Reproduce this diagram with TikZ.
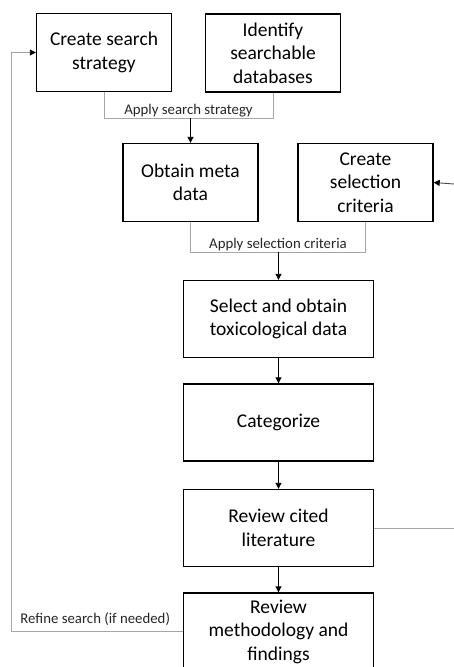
\documentclass[tikz,border=0pt]{standalone}
\usepackage{fontspec}
\setmainfont{Carlito}
\usetikzlibrary{arrows.meta, positioning, calc}
\definecolor{lineGray}{HTML}{A6A6A6}

\begin{document}
\begin{tikzpicture}[x=1pt, y=-1pt,
    box/.style={draw, line width=1.4pt, align=center, font=\fontsize{19.5}{23.5}\selectfont},
    small/.style={box, minimum width=135pt, minimum height=78pt},
    wide/.style={box, minimum width=190pt, minimum height=77pt},
    feed/.style={draw=lineGray, line width=0.9pt},
    flow/.style={draw=black, line width=0.9pt, -{Triangle[length=6pt, width=6pt, color=black]}},
    note/.style={font=\fontsize{14.8}{16}\selectfont, text=black!85, inner sep=0pt, anchor=base}]
    \useasboundingbox (0,0) rectangle (454,667);
    \clip (0,0) rectangle (454,667);
    % top row
    \node[small] (strategy) at (104,52.5) {Create search\\strategy};
    \node[small] (databases) at (273,53) {Identify\\searchable\\databases};
    \node[small] (metadata) at (190.5,182.5) {Obtain meta\\data};
    \node[small] (criteria) at (365.5,182.5) {Create\\selection\\criteria};
    % main column
    \node[wide] (select) at (278.5,319) {Select and obtain\\toxicological data};
    \node[wide] (categorize) at (278.5,422.5) {Categorize};
    \node[wide] (cited) at (278.5,528) {Review cited\\literature};
    \node[wide] (method) at (278.5,631.5) {Review\\methodology and\\findings};
    % joins
    \coordinate (joinA) at (190.5,118);
    \coordinate (joinB) at (278.5,252);
    \coordinate (inCrit) at (454,184);
    \coordinate (outCited) at (454,528);
    \coordinate (back) at (11,0);
    \draw[feed] (strategy.south) -- (strategy.south |- joinA) -- (databases.south |- joinA)
        node[note, midway, yshift=3.5pt] (applyA) {Apply search strategy} -- (databases.south);
    \draw[flow] (joinA) -- (metadata.north);
    \draw[feed] (metadata.south) -- (metadata.south |- joinB) -- (criteria.south |- joinB)
        node[note, midway, yshift=3.5pt] (applyB) {Apply selection criteria} -- (criteria.south);
    \draw[flow] (joinB) -- (select.north);
    \draw[flow] (select) -- (categorize);
    \draw[flow] (categorize) -- (cited);
    \draw[flow] (cited) -- (method);
    \draw[flow, draw=black!70] (inCrit) -- (criteria.east);
    \draw[feed] (cited.east) -- (outCited);
    % feedback loop
    \draw[feed, -{Triangle[length=6pt, width=6pt, color=black]}] (method.west) -- (method.west -| back)
        node[note, anchor=base west, xshift=9pt, yshift=8.5pt] (refine) {Refine search (if needed)}
        -- (strategy.west -| back) -- (strategy.west);
\end{tikzpicture}
\end{document}
